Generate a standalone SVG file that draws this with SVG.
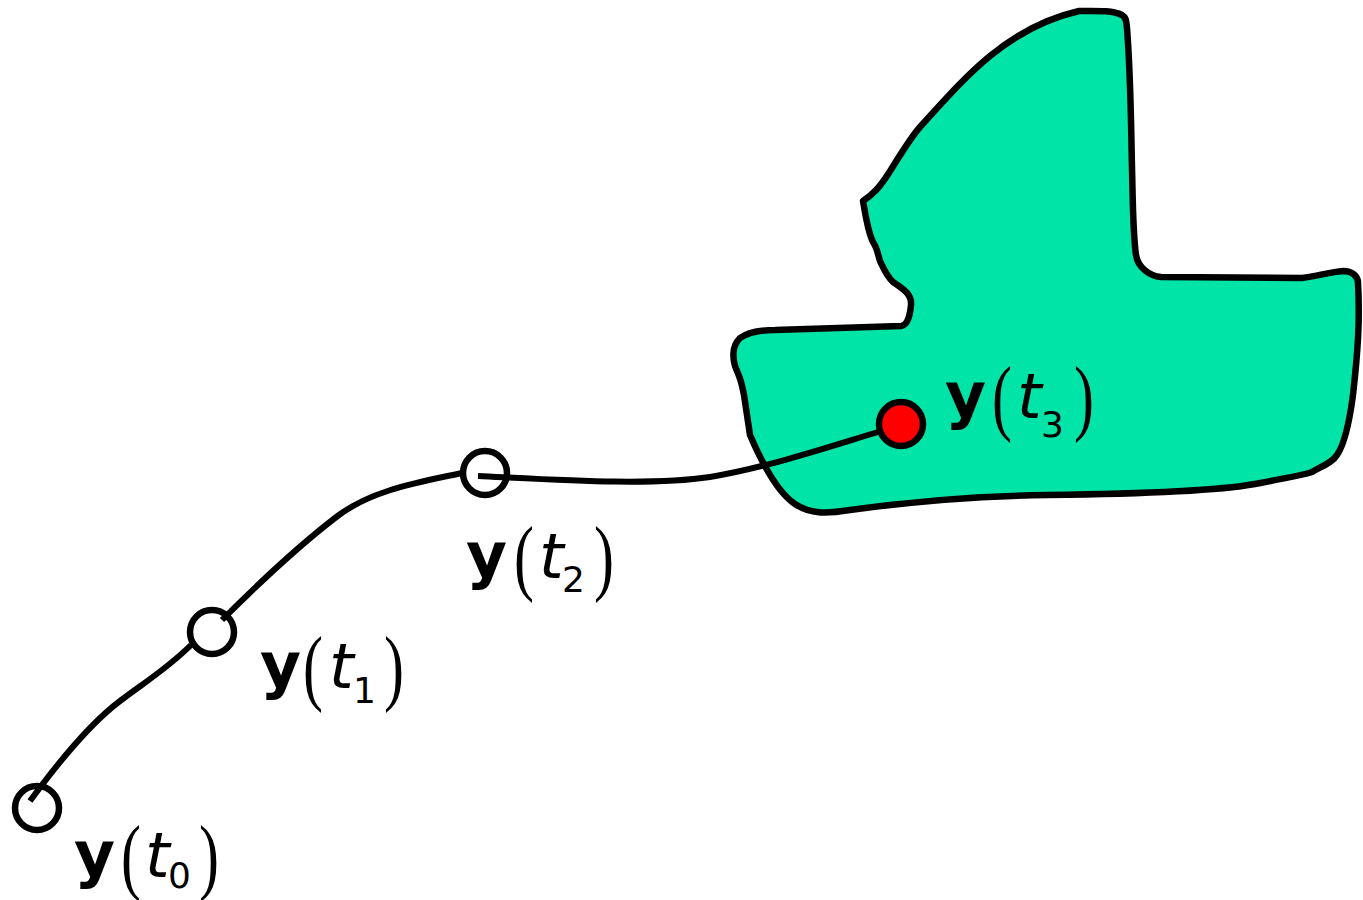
<svg xmlns="http://www.w3.org/2000/svg" width="1363" height="900" viewBox="0 0 1363 900">
<style>
.blob{fill:#00E4A8;stroke:#000;stroke-width:6.5;stroke-linejoin:round}
.conn{fill:none;stroke:#000;stroke-width:6;stroke-linecap:butt}
.pt{fill:none;stroke:#000;stroke-width:6.5}
.red{fill:#FF0000;stroke:#000;stroke-width:6.5}
.y{font-family:"DejaVu Sans",sans-serif;font-weight:bold;font-size:63px}
.p{font-family:"Liberation Serif",serif;font-size:60px}
.t{font-family:"DejaVu Sans",sans-serif;font-style:italic;font-size:63px}
.s{font-family:"DejaVu Sans",sans-serif;font-size:36px}
</style>
<rect width="1363" height="900" fill="#fff"/>
<g id="region">
<path class="blob" d="M1079,11 C1095,11 1112,10 1122,15 C1127,18 1126,22 1127,28 C1131,80 1131,130 1132,167 C1133,210 1133,235 1136,255 C1138,268 1150,276 1161,277 L1302,278 C1318,276 1330,272 1343,271 C1352,271 1358,276 1358,283 C1360,320 1358,350 1353,395 C1349,425 1344,445 1337,455 C1332,463 1322,466 1312,472 C1300,476 1290,477 1255,484 C1210,492 1130,494 1048,495 C960,496 900,503 850,510 C825,514 810,514 795,504 C780,494 765,470 750,435 L744,395 C741,380 740,378 735,366 C732,355 733,345 740,338 C748,332 760,330 775,330 L901,326 C908,325 910,315 911,305 C912,295 905,290 893,282 C886,275 883,267 880,261 C877,251 877,248 873,242 C867,230 864,205 863,201 C872,195 880,188 892,168 C905,147 912,136 920,127 C950,94 968,74 990,56 C1012,38 1040,20 1079,11 Z"/>
</g>
<g id="connectors">
<path class="conn" d="M30,801 C60,760 92,722 120,701 C145,682 168,668 191,645"/>
<path class="conn" d="M222,620 C262,580 300,545 335,518 C370,490 420,482 462,473"/>
<path class="conn" d="M478,476 C560,480 650,486 710,477 C765,468 825,448 878,432"/>
</g>
<g id="y0">
<circle class="pt" cx="37" cy="808" r="22"/>
<text y="876"><tspan class="y" x="74">y</tspan><tspan class="t" x="145" y="877">t</tspan><tspan class="s" x="168" y="888">0</tspan></text>
<text class="p" transform="translate(121,884) scale(1,1.4)">(</text>
<text class="p" transform="translate(199,884) scale(1,1.4)">)</text>
</g>
<g id="y1">
<circle class="pt" cx="212" cy="632" r="22"/>
<text y="687"><tspan class="y" x="260">y</tspan><tspan class="t" x="329" y="688">t</tspan><tspan class="s" x="353" y="703">1</tspan></text>
<text class="p" transform="translate(303,695) scale(1,1.4)">(</text>
<text class="p" transform="translate(384,695) scale(1,1.4)">)</text>
</g>
<g id="y2">
<circle class="pt" cx="485" cy="473" r="22"/>
<text y="577"><tspan class="y" x="466">y</tspan><tspan class="t" x="539" y="578">t</tspan><tspan class="s" x="562" y="592">2</tspan></text>
<text class="p" transform="translate(514,585) scale(1,1.4)">(</text>
<text class="p" transform="translate(594,585) scale(1,1.4)">)</text>
</g>
<g id="y3">
<circle class="red" cx="901" cy="424" r="22"/>
<text y="417"><tspan class="y" x="945">y</tspan><tspan class="t" x="1017" y="418">t</tspan><tspan class="s" x="1041" y="437">3</tspan></text>
<text class="p" transform="translate(992,425) scale(1,1.4)">(</text>
<text class="p" transform="translate(1074,425) scale(1,1.4)">)</text>
</g>
</svg>
